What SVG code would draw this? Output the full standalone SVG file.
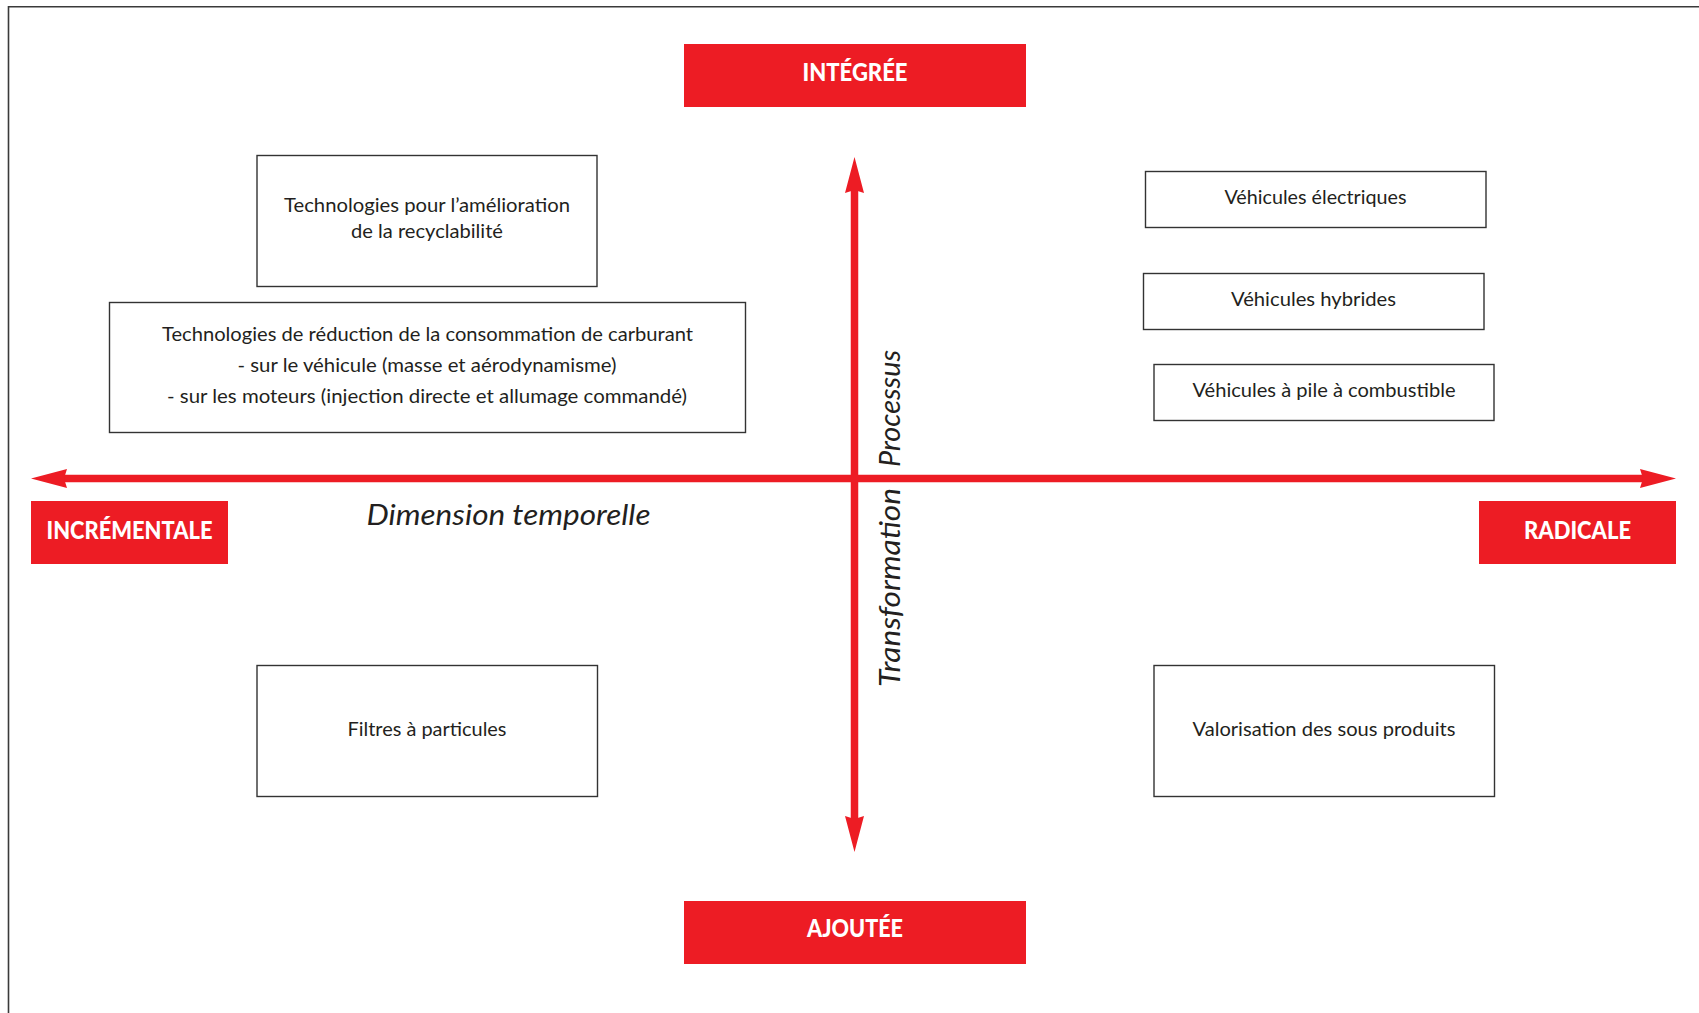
<svg xmlns="http://www.w3.org/2000/svg" width="1699" height="1013" viewBox="0 0 1699 1013">
<style>
.frame{fill:none;stroke:#3a3a3a;stroke-width:1.6}
.box{fill:#fff;stroke:#333;stroke-width:1.4}
.tag{fill:#ED1C24}
.t{font-family:Lato,"Open Sans","Liberation Sans",sans-serif;font-size:20px;fill:#231F20;text-anchor:middle}
.b{font-family:Lato,"Open Sans","Liberation Sans",sans-serif;font-size:24px;font-weight:900;fill:#fff;text-anchor:middle}
.i{font-family:Lato,"Open Sans","Liberation Sans",sans-serif;font-style:italic;font-size:28px;fill:#231F20}
.axis{stroke:#ED1C24;stroke-width:7.5;fill:none}
</style>
<defs>
<marker id="ah" viewBox="0 0 36 19" refX="3" refY="9.5" markerWidth="36" markerHeight="19" markerUnits="userSpaceOnUse" orient="auto-start-reverse">
<path d="M0,0 L36,9.5 L0,19 L3,9.5 Z" fill="#ED1C24"/>
</marker>
</defs>
<rect x="0" y="0" width="1699" height="1013" fill="#fff"/>
<path class="frame" d="M8.5,1020 V6.8 H1710"/>

<g id="connectors">
<line class="axis" x1="64" y1="478.5" x2="1643" y2="478.5" marker-start="url(#ah)" marker-end="url(#ah)"/>
<line class="axis" x1="854.5" y1="190" x2="854.5" y2="819" marker-start="url(#ah)" marker-end="url(#ah)"/>
</g>

<g id="integree">
<rect class="tag" x="684" y="44" width="342" height="63"/>
<text class="b" x="855" y="81" textLength="105" lengthAdjust="spacingAndGlyphs">INTÉGRÉE</text>
</g>
<g id="ajoutee">
<rect class="tag" x="684" y="901" width="342" height="63"/>
<text class="b" x="855" y="937" textLength="96" lengthAdjust="spacingAndGlyphs">AJOUTÉE</text>
</g>
<g id="incrementale">
<rect class="tag" x="31" y="501" width="197" height="63"/>
<text class="b" x="129.5" y="539" textLength="166" lengthAdjust="spacingAndGlyphs">INCRÉMENTALE</text>
</g>
<g id="radicale">
<rect class="tag" x="1479" y="501" width="197" height="63"/>
<text class="b" x="1577.5" y="539" textLength="107" lengthAdjust="spacingAndGlyphs">RADICALE</text>
</g>

<g id="recyclabilite">
<rect class="box" x="257" y="155.5" width="340" height="131"/>
<text class="t" x="427" y="212" textLength="286" lengthAdjust="spacingAndGlyphs">Technologies pour l’amélioration</text>
<text class="t" x="427" y="238" textLength="152" lengthAdjust="spacingAndGlyphs">de la recyclabilité</text>
</g>
<g id="consommation">
<rect class="box" x="109.5" y="302.5" width="636" height="130"/>
<text class="t" x="427.5" y="341" textLength="531" lengthAdjust="spacingAndGlyphs">Technologies de réduction de la consommation de carburant</text>
<text class="t" x="427" y="372" textLength="379" lengthAdjust="spacingAndGlyphs">- sur le véhicule (masse et aérodynamisme)</text>
<text class="t" x="427" y="403" textLength="520" lengthAdjust="spacingAndGlyphs">- sur les moteurs (injection directe et allumage commandé)</text>
</g>
<g id="electriques">
<rect class="box" x="1145.5" y="171.5" width="340.5" height="56"/>
<text class="t" x="1315.5" y="204" textLength="182" lengthAdjust="spacingAndGlyphs">Véhicules électriques</text>
</g>
<g id="hybrides">
<rect class="box" x="1143.5" y="273.5" width="340.5" height="56"/>
<text class="t" x="1313.5" y="306" textLength="165" lengthAdjust="spacingAndGlyphs">Véhicules hybrides</text>
</g>
<g id="pile">
<rect class="box" x="1154" y="364.5" width="340" height="56"/>
<text class="t" x="1324" y="397" textLength="263" lengthAdjust="spacingAndGlyphs">Véhicules à pile à combustible</text>
</g>
<g id="filtres">
<rect class="box" x="257" y="665.5" width="340.5" height="131"/>
<text class="t" x="427" y="736" textLength="159" lengthAdjust="spacingAndGlyphs">Filtres à particules</text>
</g>
<g id="valorisation">
<rect class="box" x="1154" y="665.5" width="340.5" height="131"/>
<text class="t" x="1324" y="736" textLength="263" lengthAdjust="spacingAndGlyphs">Valorisation des sous produits</text>
</g>

<g id="axis-labels">
<text class="i" x="366.5" y="525" textLength="284" lengthAdjust="spacingAndGlyphs">Dimension temporelle</text>
<text class="i" transform="translate(900,467) rotate(-90)" x="0" y="0" textLength="117" lengthAdjust="spacingAndGlyphs">Processus</text>
<text class="i" transform="translate(900,687) rotate(-90)" x="0" y="0" textLength="199" lengthAdjust="spacingAndGlyphs">Transformation</text>
</g>
</svg>
